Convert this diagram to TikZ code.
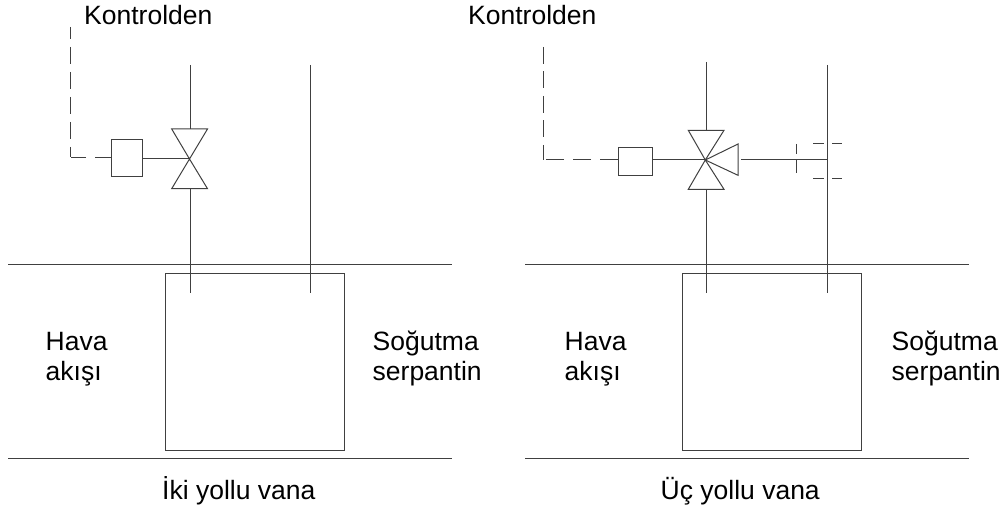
\documentclass[tikz,border=0pt]{standalone}
\usepackage{fontspec}
\setmainfont{Liberation Sans}
\tikzset{
  ln/.style={draw=black!75,line width=1pt},
  dsh/.style={ln,dash pattern=on 17pt off 8pt},
  lbl/.style={font=\fontsize{26.5}{30}\selectfont,align=left,inner sep=0pt,text=black,anchor=base west},
  actbox/.style={ln,inner sep=0pt,anchor=north west},
  coilbox/.style={ln,minimum width=179pt,minimum height=177pt,inner sep=0pt,anchor=north west}
}
\begin{document}
\begin{tikzpicture}[x=1pt,y=-1pt]
\useasboundingbox (0,0) rectangle (1005,513);
% left
\node[lbl] (k1) at (84,25) {Kontrolden};
\coordinate (d1a) at (70.5,27);
\coordinate (d1b) at (70.5,157.3);
\node[actbox,minimum width=31pt,minimum height=37.3pt] (b1) at (110.7,138.7) {};
\coordinate (v1) at (189.5,159);
\draw[ln] (v1) -- (171.7,129) -- (207.5,129) -- cycle;
\draw[ln] (v1) -- (171.7,188.7) -- (207.5,188.7) -- cycle;
\draw[dsh,dash phase=5pt] (d1a) -- (d1b);
\draw[ln,dash pattern=on 15.5pt off 9pt] (b1.west |- d1b) -- (d1b);
\draw[ln] (b1.east |- v1) -- (v1);
\coordinate (p1a) at (190,65);\coordinate (p1b) at (190,129);
\coordinate (p1c) at (190,188.7);\coordinate (p1d) at (190,292.7);
\draw[ln] (p1a) -- (p1b);
\draw[ln] (p1c) -- (p1d);
\coordinate (p2a) at (310,65);\coordinate (p2b) at (310,292.7);
\draw[ln] (p2a) -- (p2b);
\coordinate (h1a) at (8,265);\coordinate (h1b) at (452,265);
\draw[ln] (h1a) -- (h1b);
\coordinate (h2a) at (8,458.3);\coordinate (h2b) at (452,458.3);
\draw[ln] (h2a) -- (h2b);
\node[coilbox] (c1) at (165.3,273) {};
\node[lbl] (h1) at (45.5,351) {Hava};
\node[lbl] (h1b) at (45.5,381) {akışı};
\node[lbl] (s1) at (372.5,351) {Soğutma};
\node[lbl] (s1b) at (372.5,381) {serpantin};
\node[lbl] (t1) at (162,499) {İki yollu vana};
% right
\node[lbl] (k2) at (468,25) {Kontrolden};
\coordinate (d2a) at (543.5,47);
\coordinate (d2b) at (543.5,160);
\node[actbox,minimum width=34.3pt,minimum height=28.6pt] (b2) at (618,146.7) {};
\coordinate (v2) at (705.3,160);
\draw[ln] (v2) -- (688.3,130.3) -- (724,130.3) -- cycle;
\draw[ln] (v2) -- (688.3,189.3) -- (724,189.3) -- cycle;
\draw[ln] (v2) -- (738,144) -- (738,175.3) -- cycle;
\draw[ln,dash pattern=on 17pt off 7.5pt] (d2a) -- (d2b);
\draw[ln,dash pattern=on 18.5pt off 8.5pt] (b2.west |- d2b) -- (d2b);
\draw[ln] (b2.east |- v2) -- (v2);
\coordinate (p3a) at (706,62);\coordinate (p3b) at (706,130.3);
\coordinate (p3c) at (706.7,189.3);\coordinate (p3d) at (706.7,292.7);
\draw[ln] (p3a) -- (p3b);
\draw[ln] (p3c) -- (p3d);
\coordinate (p4a) at (827,65);\coordinate (p4b) at (827,292.7);
\draw[ln] (p4a) -- (p4b);
\coordinate (br) at (741,160);\coordinate (brj) at (827,160);
\draw[ln] (br) -- (brj);
\coordinate (e1) at (796.7,144);\coordinate (e2) at (796.7,172.7);
\draw[ln,dash pattern=on 10.3pt off 5.2pt on 13.2pt] (e1) -- (e2);
\coordinate (e3) at (813.3,144);\coordinate (e4) at (842.3,144);
\draw[ln,dash pattern=on 10.7pt off 8.3pt on 10pt] (e3) -- (e4);
\coordinate (e5) at (813.3,178.3);\coordinate (e6) at (842.3,178.3);
\draw[ln,dash pattern=on 10.7pt off 8.3pt on 10pt] (e5) -- (e6);
\coordinate (h3a) at (525,265);\coordinate (h3b) at (969,265);
\draw[ln] (h3a) -- (h3b);
\coordinate (h4a) at (525,458.3);\coordinate (h4b) at (969,458.3);
\draw[ln] (h4a) -- (h4b);
\node[coilbox] (c2) at (682,273) {};
\node[lbl] (h2) at (564.5,351) {Hava};
\node[lbl] (h2b) at (564.5,381) {akışı};
\node[lbl] (s2) at (891.5,351) {Soğutma};
\node[lbl] (s2b) at (891.5,381) {serpantin};
\node[lbl] (t2) at (660.5,499) {Üç yollu vana};
\end{tikzpicture}
\end{document}
